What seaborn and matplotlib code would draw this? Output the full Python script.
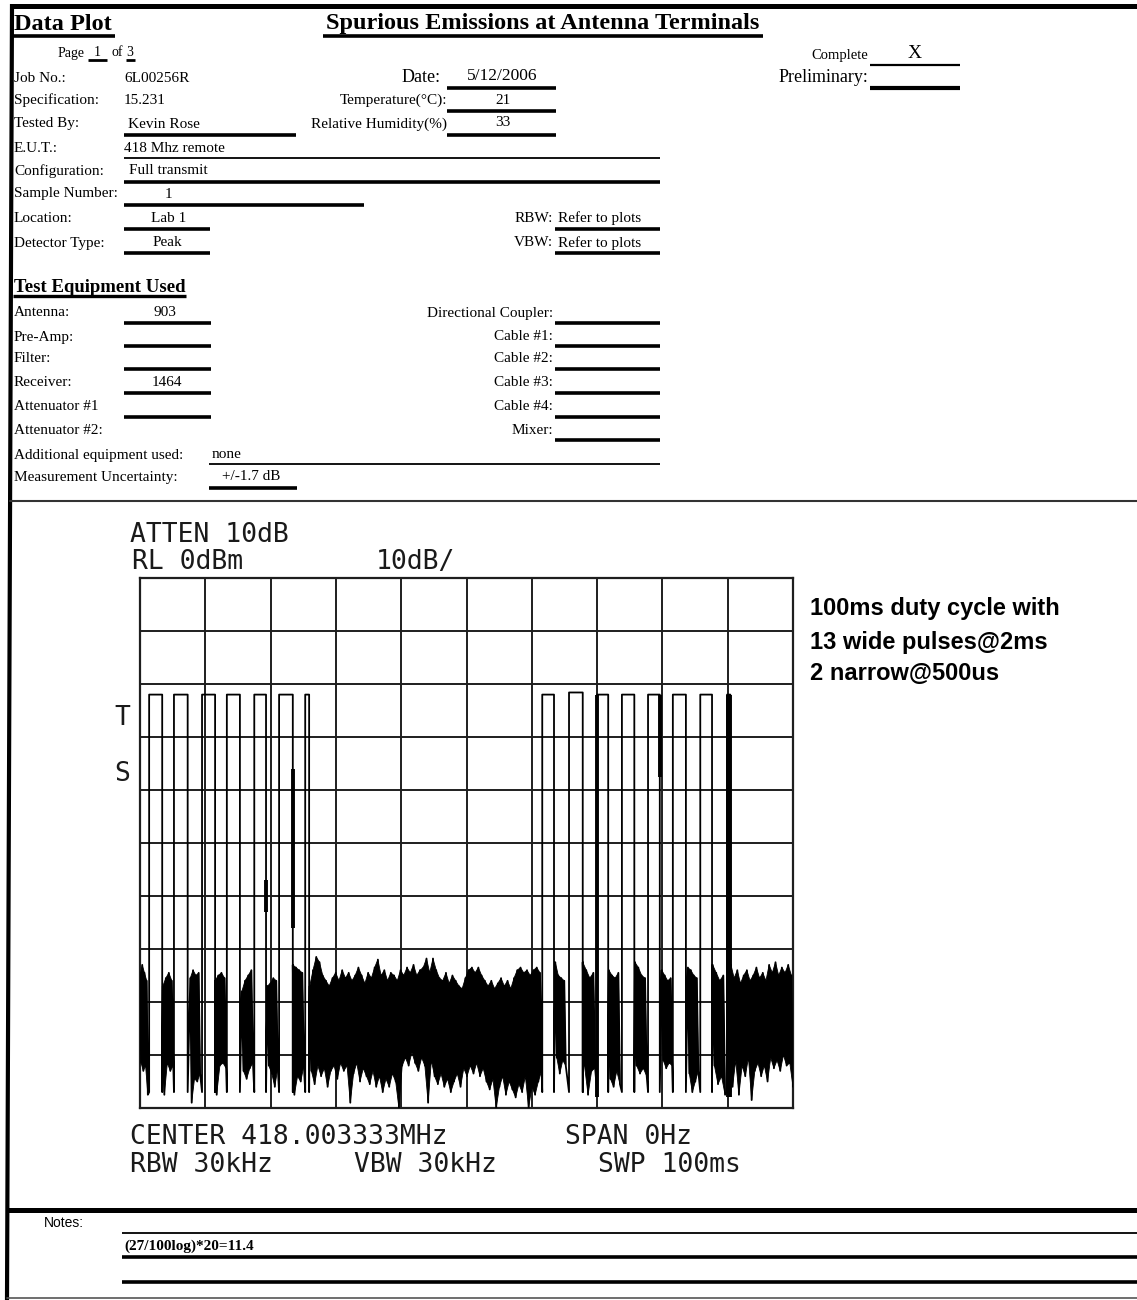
import numpy as np
import pandas as pd
import matplotlib
matplotlib.use("Agg")
import matplotlib.pyplot as plt
import seaborn as sns
from matplotlib import font_manager

# ---------------------------------------------------------------- data
# time axis: 0..100 ms (SWP 100ms), level axis: RL 0 dBm, 10 dB/div
pulse_start = [1.4, 5.2, 9.5, 13.3, 17.5, 21.3, 25.3,
               61.6, 65.7, 70.0, 73.8, 77.8, 81.6, 85.8, 89.9]
pulse_end = [3.4, 7.3, 11.5, 15.3, 19.3, 23.4, 25.9,
             63.4, 67.8, 71.7, 75.7, 79.6, 83.6, 87.6, 90.4]
pulse_top = [-22.0, -22.0, -22.0, -22.0, -22.0, -22.0, -22.0,
             -22.0, -21.6, -22.0, -22.0, -22.0, -22.0, -22.0, -22.0]
pulse_floor = -97.0

noise_start = [0.0, 3.5, 7.7, 11.5, 15.6, 19.5, 23.4, 26.0,
               63.6, 67.8, 71.8, 75.8, 79.9, 83.9, 87.7, 90.5]
noise_end = [1.2, 5.1, 9.2, 13.2, 17.3, 21.1, 25.1, 61.5,
             65.2, 69.7, 73.5, 77.6, 81.5, 85.5, 89.6, 100.0]
noise_hi = [
    [-75, -73, -74.5, -76],
    [-77, -75.5, -74.5, -76],
    [-75.5, -74, -75, -74.5],
    [-76, -75, -74.5, -75.5],
    [-78, -76, -75, -74],
    [-77, -76.5, -75.5, -76],
    [-73, -73.5, -74, -74.5],
    [-77, -74, -71.5, -72.5, -75, -76, -77, -75.5, -74.5, -76, -74, -75.5,
     -74.5, -76, -75, -73.5, -75, -76.5, -74.5, -75.5, -73.5, -72, -75, -74,
     -76, -74.5, -75, -76, -74, -75, -73.5, -74.5, -73, -75, -74, -73.5,
     -71.8, -74.5, -71.8, -74, -75.5, -76, -74.5, -76.5, -75, -76, -77, -77.5,
     -75.5, -74, -73.5, -74.5, -73.5, -75, -76, -77, -76, -77.5, -76.5, -75.5,
     -77, -76, -77.5, -75.5, -74, -73.5, -74.5, -74, -75, -74, -73.5, -74.5],
    [-72.5, -75, -75.5, -76],
    [-72.5, -74, -75.5, -74.5],
    [-74, -75, -75.5, -74.5],
    [-72.5, -73.5, -75, -75.5],
    [-74, -75, -76, -75.5],
    [-73.5, -74, -75, -75.5],
    [-73, -74.5, -76, -75],
    [-73, -75.5, -74, -76.5, -75, -74, -76, -75, -73.5, -75.5,
     -74.5, -76, -73, -74.5, -72.5, -75, -73.5, -74.5, -73, -75],
]
noise_lo = [
    [-91.5, -93, -92, -97.5],
    [-97.5, -91.5, -93, -92],
    [-99, -94.5, -95, -93.5],
    [-97.5, -92, -91.5, -92.5],
    [-93, -94.5, -92.5, -91.5],
    [-92, -93.5, -96, -92.5],
    [-97.5, -94, -95, -92],
    [-93, -95.5, -92, -94, -92.5, -96, -93, -92, -94.5, -91.5, -93, -92,
     -99, -93.5, -91.5, -95, -92.5, -94, -95.5, -93, -96, -94, -97, -94.5,
     -96, -93.5, -95, -100, -92, -90.5, -92, -89.5, -91.5, -93, -90.5, -92,
     -99, -91, -94, -95.5, -93.5, -96, -94.5, -97, -95, -93.5, -96, -92.5,
     -94, -92, -93.5, -91.5, -94, -92.5, -95, -96.5, -94.5, -100, -96, -94,
     -97.5, -95, -96.5, -98, -95.5, -97, -94, -100, -96, -97.5, -95, -93],
    [-90.5, -93.5, -91, -92],
    [-92, -97.5, -93, -92.5],
    [-94.5, -96, -93, -95.5],
    [-92, -93.5, -92.5, -94],
    [-91, -92.5, -91.5, -92],
    [-93.5, -97, -95, -93],
    [-92, -95.5, -94, -97.5],
    [-96, -91, -97.5, -92, -94, -90.5, -98.5, -93, -91.5, -94,
     -92, -95, -90.5, -92.5, -91, -93, -90, -92, -91.5, -96],
]
# heavier (overdrawn) trace segments
thick_t = [19.3, 23.4, 70.0, 79.6, 90.0, 90.3]
thick_top = [-57.0, -36.0, -22.0, -22.0, -22.0, -22.0]
thick_bot = [-63.0, -66.0, -98.0, -37.5, -98.0, -98.0]

# ---------------------------------------------------------------- style
sns.set_style("white")
SERIF = ["Liberation Serif", "DejaVu Serif"]
MONO = ["DejaVu Sans Mono"]


def have(name):
    try:
        font_manager.findfont(font_manager.FontProperties(family=name),
                              fallback_to_default=False)
        return True
    except Exception:
        return False


NARROW = ["Liberation Sans Narrow"] if have("Liberation Sans Narrow") else ["Liberation Sans"]
plt.rcParams["font.family"] = SERIF + ["DejaVu Sans"]

W, H = 1137, 1300
fig = plt.figure(figsize=(W / 100, H / 100), dpi=100)
fig.patch.set_facecolor("white")

# full-page form layer in pixel coordinates
form = fig.add_axes([0, 0, 1, 1], zorder=0)
form.set_xlim(0, W)
form.set_ylim(H, 0)
form.axis("off")


def T(x, y, s, size=11, ha="left", weight="normal", family=None, color="black", **kw):
    form.text(x, y, s, fontsize=size, ha=ha, va="center", fontweight=weight,
              family=family or SERIF, color=color, **kw)


def U(x0, x1, y, lw=1.6):
    form.plot([x0, x1], [y, y], color="black", lw=lw, solid_capstyle="butt")


# page frame
form.plot([10, W], [6, 6], color="black", lw=3.6, solid_capstyle="butt")
form.plot([12, 7], [4, H], color="black", lw=3.0, solid_capstyle="butt")
form.plot([10, W], [501, 501], color="#333333", lw=1.5)
form.plot([7, W], [1298, 1298], color="#555555", lw=1.2)

# header titles
T(14, 24, "Data Plot", size=17.5, weight="bold")
U(13, 115, 36, lw=2.6)
T(543, 23, "Spurious Emissions at Antenna Terminals", size=17.5, weight="bold", ha="center")
U(323, 763, 36, lw=2.6)

T(58, 53, "Page", size=10)
T(97, 53, "1", size=10, ha="center")
U(88, 107, 60, lw=2)
T(112, 53, "of", size=10)
T(130, 53, "3", size=10, ha="center")
U(126, 135, 60, lw=2)

T(868, 55, "Complete", size=10.5, ha="right")
T(915, 54, "X", size=14, ha="center")
U(870, 960, 65, lw=1.6)
T(868, 77, "Preliminary:", size=13, ha="right")
U(870, 960, 88, lw=3)

rows_y = [79, 100, 124, 148, 171, 194, 218, 243]
row_lab = ["Job No.:", "Specification:", "Tested By:", "E.U.T.:", "Configuration:",
           "Sample Number:", "Location:", "Detector Type:"]
for y, lab in zip(rows_y, row_lab):
    T(14, y, lab)
T(124, 79, "6L00256R")
T(124, 100, "15.231")
T(128, 124, "Kevin Rose")
U(124, 296, 135, lw=2.6)
T(124, 148, "418 Mhz remote")
U(124, 660, 158, lw=1.3)
T(129, 171, "Full transmit")
U(124, 660, 182, lw=2.6)
T(165, 194, "1")
U(124, 364, 205, lw=2.6)
T(151, 218, "Lab 1")
U(124, 210, 229, lw=2.6)
T(153, 243, "Peak")
U(124, 210, 253, lw=2.6)

T(441, 77, "Date:", size=13, ha="right")
T(502, 76, "5/12/2006", size=12.5, ha="center")
U(447, 556, 88, lw=2.6)
T(447, 100, "Temperature(\u00b0C):", ha="right")
T(503, 100, "21", ha="center")
U(447, 556, 111, lw=2.6)
T(447, 124, "Relative Humidity(%)", ha="right")
T(503, 123, "33", ha="center")
U(447, 556, 135, lw=2.6)
T(553, 218, "RBW:", ha="right")
T(558, 218, "Refer to plots")
U(555, 660, 229, lw=2.6)
T(553, 243, "VBW:", ha="right")
T(558, 243, "Refer to plots")
U(555, 660, 253, lw=2.6)

# test equipment block
T(14, 287, "Test Equipment Used", size=13.5, weight="bold")
U(13, 186, 296, lw=2.4)
eq_y = [313, 337, 359, 383, 407, 431]
eq_lab = ["Antenna:", "Pre-Amp:", "Filter:", "Receiver:", "Attenuator #1", "Attenuator #2:"]
eq_under = [323, 346, 369, 393, 417, None]
for y, lab, uy in zip(eq_y, eq_lab, eq_under):
    T(14, y, lab)
    if uy is not None:
        U(124, 211, uy, lw=2.6)
T(165, 312, "903", ha="center")
T(167, 382, "1464", ha="center")
rt_lab = ["Directional Coupler:", "Cable #1:", "Cable #2:", "Cable #3:", "Cable #4:", "Mixer:"]
rt_under = [323, 346, 369, 393, 417, 440]
for y, lab, uy in zip(eq_y, rt_lab, rt_under):
    T(553, y, lab, ha="right")
    U(555, 660, uy, lw=2.6)
T(14, 455, "Additional equipment used:")
T(212, 455, "none")
U(209, 660, 464, lw=1.3)
T(14, 477, "Measurement Uncertainty:")
T(222, 476, "+/-1.7 dB")
U(209, 297, 488, lw=2.6)

# analyzer annotations
MS = 19
MC = "#1a1a1a"
T(130, 535, "ATTEN 10dB", size=MS, family=MONO, color=MC)
T(132, 562, "RL 0dBm", size=MS, family=MONO, color=MC)
T(376, 562, "10dB/", size=MS, family=MONO, color=MC)
T(114, 718, "T", size=MS, family=MONO, color=MC)
T(114, 774, "S", size=MS, family=MONO, color=MC)
T(130, 1137, "CENTER 418.003333MHz", size=MS, family=MONO, color=MC)
T(565, 1137, "SPAN 0Hz", size=MS, family=MONO, color=MC)
T(130, 1165, "RBW 30kHz", size=MS, family=MONO, color=MC)
T(354, 1165, "VBW 30kHz", size=MS, family=MONO, color=MC)
T(598, 1165, "SWP 100ms", size=MS, family=MONO, color=MC)

T(810, 609, "100ms duty cycle with", size=17, weight="bold", family=NARROW)
T(810, 642, "13 wide pulses@2ms", size=17, weight="bold", family=NARROW)
T(810, 674, "2 narrow@500us", size=17, weight="bold", family=NARROW)

# notes block
form.plot([7, W], [1210, 1210], color="black", lw=3.6, solid_capstyle="butt")
T(44, 1223, "Notes:", size=10, family=["Liberation Sans"])
U(122, W, 1233, lw=1.3)
T(124, 1246, "(27/100log)*20=11.4", size=11, weight="bold")
U(122, W, 1257, lw=2.6)
U(122, W, 1282, lw=2.6)

# ---------------------------------------------------------------- trace
events = []
bands = []
for s, e, hi, lo in zip(noise_start, noise_end, noise_hi, noise_lo):
    n = len(hi)
    ts = np.linspace(s, e, 2 * n)
    ys = np.empty(2 * n)
    ys[0::2] = hi
    ys[1::2] = lo
    events.append((s, ts, ys))
    bands.append((ts[0::2], np.asarray(hi, float), ts[1::2], np.asarray(lo, float)))
for s, e, top in zip(pulse_start, pulse_end, pulse_top):
    events.append((s, np.array([s, s, e, e]),
                   np.array([pulse_floor, top, top, pulse_floor])))
events.sort(key=lambda ev: ev[0])
trace = pd.DataFrame({
    "time_ms": np.concatenate([ev[1] for ev in events]),
    "level_dBm": np.concatenate([ev[2] for ev in events]),
})

L, R, TOP, BOT = 140, 793, 578, 1108
ax = fig.add_axes([L / W, 1 - BOT / H, (R - L) / W, (BOT - TOP) / H], zorder=2)
ax.set_facecolor("white")
ax.set_xlim(0, 100)
ax.set_ylim(-100, 0)
ax.set_xticks(np.arange(0, 101, 10))
ax.set_yticks(np.arange(-100, 1, 10))
ax.set_axisbelow(True)
ax.grid(True, color="#1e1e1e", lw=1.4)
ax.tick_params(length=0, labelbottom=False, labelleft=False)
for sp in ax.spines.values():
    sp.set_color("#1e1e1e")
    sp.set_linewidth(1.6)

# solid noise body: polygon between the upper and lower sample envelopes
for th, hi, tl, lo in bands:
    poly_t = np.concatenate([th, tl[::-1]])
    poly_y = np.concatenate([hi, lo[::-1]])
    ax.fill(poly_t, poly_y, color="black", lw=0.6, zorder=3)

sns.lineplot(data=trace, x="time_ms", y="level_dBm", sort=False, estimator=None,
             color="black", lw=1.3, ax=ax, legend=False, zorder=4)
ax.vlines(thick_t, thick_bot, thick_top, color="black", lw=2.8, zorder=4)
ax.set_xlabel("")
ax.set_ylabel("")

fig.savefig("out.png", dpi=100, facecolor="white")
